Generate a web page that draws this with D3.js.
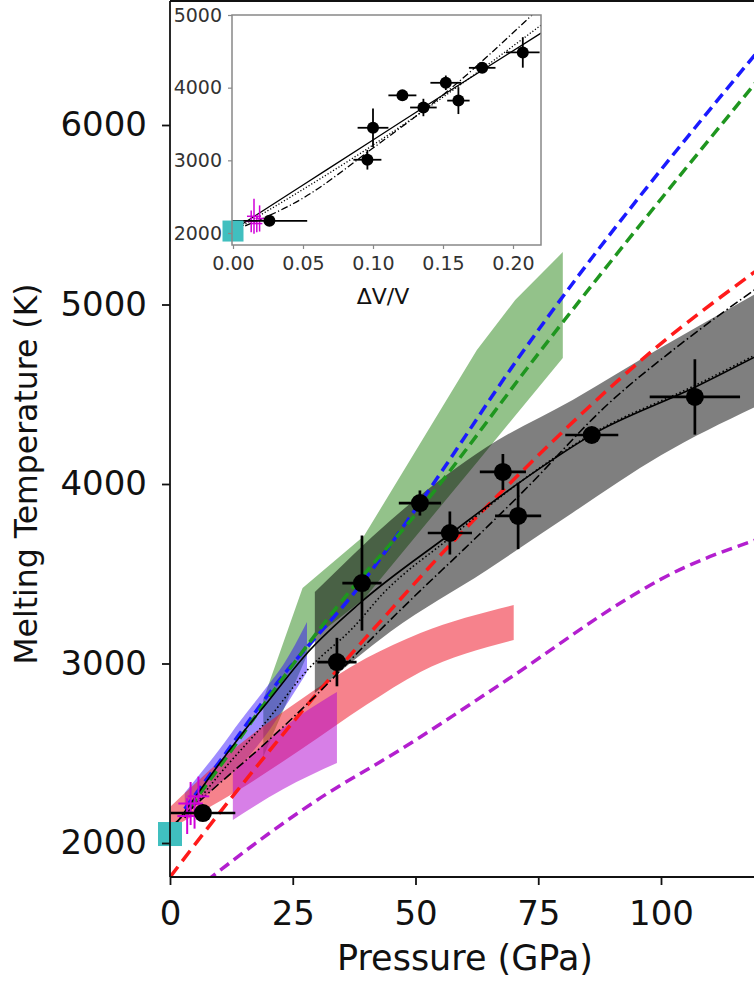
<!DOCTYPE html>
<html>
<head>
<meta charset="utf-8">
<script src="https://cdn.jsdelivr.net/npm/d3@7"></script>
<style>
  body { margin: 0; background: #fff; }
  svg { display: block; font-family: "DejaVu Sans", sans-serif; }
</style>
</head>
<body>
<svg id="chart" width="754" height="983"></svg>
<script>
// ---- data ----
// black points: pressure (GPa), temperature (K), errors; dV/V for the inset
var ptP    = [6.7, 34.0, 39.1, 50.9, 57.0, 67.8, 70.9, 85.9, 106.9];
var ptT    = [2167, 3008, 3448, 3894, 3727, 4067, 3822, 4273, 4485];
var ptPerr = [6.6, 4.0, 4.0, 4.3, 4.5, 4.7, 4.7, 5.4, 9.2];
var ptTerr = [0, 135, 265, 70, 120, 100, 185, 30, 210];
var ptDV    = [0.026, 0.096, 0.100, 0.121, 0.136, 0.152, 0.161, 0.178, 0.207];
var ptDVerr = [0.027, 0.010, 0.011, 0.010, 0.0095, 0.011, 0.008, 0.0095, 0.012];

// magenta small crosses near ambient (main and inset)
var magP = [3.5, 4.2, 5.0, 5.8];
var magT = [2150, 2220, 2170, 2260];
var magPerr = [2.0, 2.5, 1.8, 2.2];
var magTerr = [100, 120, 90, 110];
var inMagDV = [0.013, 0.015, 0.017, 0.019];
var inMagT = [2160, 2230, 2130, 2200];
var inMagDVerr = [0.004, 0.005, 0.004, 0.003];
var inMagTerr = [150, 240, 120, 180];

// curves (main)
var solidP = [0.5, 5, 10, 15, 20, 28, 38.7, 57, 71, 86, 107, 120];
var solidT = [2080, 2250, 2440, 2620, 2790, 3060, 3337, 3720, 4005, 4275, 4540, 4720];
var dotP = [3, 10, 20, 28, 37.3, 43.4, 57, 71, 86, 107, 120];
var dotT = [2140, 2380, 2690, 2964, 3200, 3390, 3700, 4005, 4280, 4550, 4730];
var dashdotP = [1, 10, 20, 30, 40, 50, 60, 72, 89, 104.5, 120];
var dashdotT = [2110, 2330, 2570, 2830, 3110, 3380, 3640, 3960, 4440, 4790, 5100];
var redP = [0, 10, 20, 30, 45, 57, 71.3, 98.4, 120];
var redT = [1810, 2165, 2505, 2835, 3300, 3660, 4060, 4746, 5200];
var blueP = [3, 10, 21.8, 39.1, 50.9, 70.9, 120];
var blueT = [2190, 2450, 2891, 3448, 3894, 4700, 6420];
var greenP = [4, 10, 18.3, 34, 50.9, 75.4, 120];
var greenT = [2200, 2420, 2741, 3315, 3860, 4740, 6260];
var purpleP = [7.5, 20, 30, 46.8, 68.6, 94.3, 100, 120];
var purpleT = [1790, 2050, 2240, 2518, 2908, 3380, 3470, 3695];

// bands (main)
var grayP  = [29.5, 45, 64.5, 82, 100, 120];
var grayLo = [2836, 3180, 3520, 3840, 4160, 4440];
var grayHi = [3398, 3800, 4206, 4468, 4760, 5070];
var greenHiP = [19, 27, 39.5, 62.5, 70.3, 80];
var greenHi  = [2800, 3420, 3710, 4746, 5025, 5292];
var greenLoP = [19, 29.5, 39.5, 62.5, 70.3, 80];
var greenLo  = [2480, 3148, 3360, 4120, 4380, 4702];
var blueBP = [3, 10, 14.3, 20, 23, 27.9];
var blueLo = [2150, 2330, 2430, 2620, 2741, 2953];
var blueHi = [2280, 2520, 2680, 2880, 2990, 3231];
var pinkP  = [0, 14, 26.5, 40, 51, 70];
var pinkLo = [2080, 2295, 2518, 2770, 2953, 3131];
var pinkHi = [2200, 2546, 2797, 3030, 3170, 3326];
var magBP = [12.8, 23, 34];
var magLo = [2128, 2300, 2446];
var magHi = [2390, 2640, 2841];

// inset curves
var inSolidDV = [0, 0.05, 0.10, 0.15, 0.22];
var inSolidT  = [2041, 2660, 3279, 3900, 4751];
var inDotDV = [0.005, 0.05, 0.10, 0.15, 0.22];
var inDotT  = [2080, 2600, 3210, 3870, 4860];
var inDashDV = [0, 0.05, 0.10, 0.15, 0.2136];
var inDashT  = [2030, 2480, 3169, 3900, 5000];

var xTicks = [0, 25, 50, 75, 100];
var yTicks = [2000, 3000, 4000, 5000, 6000];
var ixTicks = [0, 0.05, 0.10, 0.15, 0.20];
var iyTicks = [2000, 3000, 4000, 5000];

// ---- drawing ----
var svg = d3.select("#chart");
var x = d3.scaleLinear().domain([0, 100]).range([170, 661]);
var y = d3.scaleLinear().domain([2000, 6000]).range([843, 125]);
var pLeft = 170, pTop = 1, pBottom = 877, pRight = 754;

svg.append("clipPath").attr("id", "clip").append("rect")
  .attr("x", pLeft).attr("y", pTop).attr("width", pRight - pLeft).attr("height", pBottom - pTop);

var plot = svg.append("g").attr("clip-path", "url(#clip)");

function band(P, lo, hi, fill, op) {
  var area = d3.area().x(function (d, i) { return x(P[i]); })
    .y0(function (d, i) { return y(lo[i]); })
    .y1(function (d, i) { return y(hi[i]); })
    .curve(d3.curveMonotoneX);
  plot.append("path").datum(P).attr("d", area).attr("fill", fill).attr("fill-opacity", op);
}
// band whose upper and lower edges have their own pressures (straight segments)
function polyBand(Pu, Tu, Pl, Tl, fill, op) {
  var pts = Pu.map(function (p, i) { return [x(p), y(Tu[i])]; });
  for (var i = Pl.length - 1; i >= 0; i--) pts.push([x(Pl[i]), y(Tl[i])]);
  plot.append("path").attr("d", d3.line().curve(d3.curveLinearClosed)(pts))
    .attr("fill", fill).attr("fill-opacity", op);
}
polyBand(greenHiP, greenHi, greenLoP, greenLo, "#3a8f2a", 0.55);
band(blueBP, blueLo, blueHi, "#2a00ff", 0.45);
band(pinkP, pinkLo, pinkHi, "#ee1c2e", 0.55);
band(magBP, magLo, magHi, "#b000d0", 0.5);
band(grayP, grayLo, grayHi, "#000000", 0.5);

function curve(g, sx, sy, X, Y, color, w, dash) {
  var line = d3.line().x(function (d, i) { return sx(X[i]); })
    .y(function (d, i) { return sy(Y[i]); })
    .curve(d3.curveMonotoneX);
  g.append("path").datum(X).attr("d", line).attr("fill", "none")
    .attr("stroke", color).attr("stroke-width", w)
    .attr("stroke-dasharray", dash || null);
}
curve(plot, x, y, purpleP, purpleT, "#b31fcf", 3.5, "11,6");
curve(plot, x, y, redP, redT, "#ff1a1a", 3.5, "13,7");
curve(plot, x, y, blueP, blueT, "#1a1aff", 3.5, "11,6");
curve(plot, x, y, greenP, greenT, "#1f961f", 3.5, "11,6");
curve(plot, x, y, solidP, solidT, "#000", 1.6);
curve(plot, x, y, dotP, dotT, "#000", 1.6, "1.5,2.5");
curve(plot, x, y, dashdotP, dashdotT, "#000", 1.6, "9,3,1.5,3");

function crosses(g, sx, sy, X, Y, Xe, Ye, color, w, r) {
  X.forEach(function (v, i) {
    g.append("line").attr("x1", sx(v - Xe[i])).attr("x2", sx(v + Xe[i]))
      .attr("y1", sy(Y[i])).attr("y2", sy(Y[i])).attr("stroke", color).attr("stroke-width", w);
    if (Ye[i] > 0) g.append("line").attr("x1", sx(v)).attr("x2", sx(v))
      .attr("y1", sy(Y[i] - Ye[i])).attr("y2", sy(Y[i] + Ye[i])).attr("stroke", color).attr("stroke-width", w);
    if (r) g.append("circle").attr("cx", sx(v)).attr("cy", sy(Y[i])).attr("r", r).attr("fill", color);
  });
}
crosses(plot, x, y, magP, magT, magPerr, magTerr, "#d000d8", 2, 0);
crosses(plot, x, y, ptP, ptT, ptPerr, ptTerr, "#000", 2.7, 9);

// cyan square
svg.append("rect").attr("x", x(0) - 12).attr("y", y(2050) - 12).attr("width", 24).attr("height", 24)
  .attr("fill", "#40bfbf");

// spines
svg.append("line").attr("x1", pLeft).attr("x2", pLeft).attr("y1", pTop).attr("y2", pBottom).attr("stroke", "#111").attr("stroke-width", 1.8);
svg.append("line").attr("x1", pLeft).attr("x2", pRight).attr("y1", pBottom).attr("y2", pBottom).attr("stroke", "#111").attr("stroke-width", 1.8);
svg.append("line").attr("x1", pLeft).attr("x2", pRight).attr("y1", pTop).attr("y2", pTop).attr("stroke", "#111").attr("stroke-width", 1.8);

var xa = svg.append("g").attr("transform", "translate(0," + pBottom + ")")
  .call(d3.axisBottom(x).tickValues(xTicks).tickFormat(d3.format("d")).tickSize(8).tickPadding(16).tickSizeOuter(0));
var ya = svg.append("g").attr("transform", "translate(" + pLeft + ",0)")
  .call(d3.axisLeft(y).tickValues(yTicks).tickFormat(d3.format("d")).tickSize(8).tickPadding(15).tickSizeOuter(0));
[xa, ya].forEach(function (a) {
  a.select(".domain").remove();
  a.selectAll("line").attr("stroke", "#111").attr("stroke-width", 1.8);
  a.selectAll("text").attr("font-size", 34).attr("fill", "#111").attr("font-family", "DejaVu Sans");
});

svg.append("text").attr("x", 465).attr("y", 970).attr("text-anchor", "middle")
  .attr("font-size", 35).attr("fill", "#111").text("Pressure (GPa)");
svg.append("text").attr("transform", "translate(37,474) rotate(-90)").attr("text-anchor", "middle")
  .attr("font-size", 31.5).attr("fill", "#111").text("Melting Temperature (K)");

// ---- inset ----
var ix = d3.scaleLinear().domain([0, 0.2]).range([233, 513]);
var iy = d3.scaleLinear().domain([2000, 5000]).range([233, 15]);
var il = 232, ir = 541, it = 15, ib = 245;
var inset = svg.append("g");
inset.append("rect").attr("x", il).attr("y", it).attr("width", ir - il).attr("height", ib - it).attr("fill", "#fff");
inset.append("clipPath").attr("id", "iclip").append("rect")
  .attr("x", il).attr("y", it).attr("width", ir - il).attr("height", ib - it);
var ip = inset.append("g").attr("clip-path", "url(#iclip)");
curve(ip, ix, iy, inSolidDV, inSolidT, "#000", 1.3);
curve(ip, ix, iy, inDotDV, inDotT, "#000", 1.3, "1.2,2");
curve(ip, ix, iy, inDashDV, inDashT, "#000", 1.3, "7,2.5,1.2,2.5");
crosses(ip, ix, iy, inMagDV, inMagT, inMagDVerr, inMagTerr, "#d000d8", 1.5, 0);
crosses(ip, ix, iy, ptDV, ptT, ptDVerr, ptTerr, "#000", 1.8, 6);
inset.append("rect").attr("x", ix(0) - 10.5).attr("y", iy(2027) - 10.5).attr("width", 21).attr("height", 21)
  .attr("fill", "#40bfbf");
inset.append("rect").attr("x", il).attr("y", it).attr("width", ir - il).attr("height", ib - it)
  .attr("fill", "none").attr("stroke", "#888").attr("stroke-width", 1.5);

var ixa = inset.append("g").attr("transform", "translate(0," + ib + ")")
  .call(d3.axisBottom(ix).tickValues(ixTicks).tickFormat(d3.format(".2f")).tickSize(4).tickPadding(8).tickSizeOuter(0));
var iya = inset.append("g").attr("transform", "translate(" + il + ",0)")
  .call(d3.axisLeft(iy).tickValues(iyTicks).tickFormat(d3.format("d")).tickSize(4).tickPadding(6).tickSizeOuter(0));
[ixa, iya].forEach(function (a) {
  a.select(".domain").remove();
  a.selectAll("line").attr("stroke", "#888").attr("stroke-width", 1.2);
  a.selectAll("text").attr("font-size", 19).attr("fill", "#333").attr("font-family", "DejaVu Sans");
});
inset.append("text").attr("x", 383).attr("y", 304).attr("text-anchor", "middle")
  .attr("font-size", 22).attr("fill", "#111").text("ΔV/V");
</script>
</body>
</html>
